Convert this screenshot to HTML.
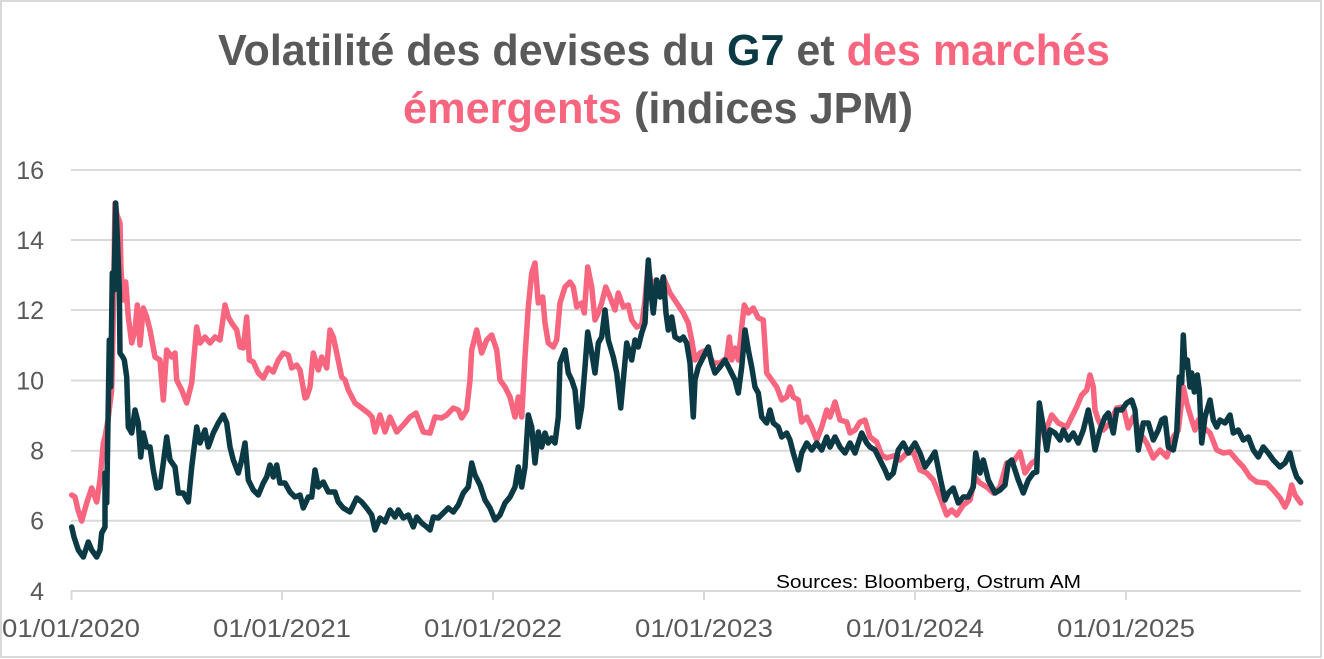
<!DOCTYPE html>
<html><head><meta charset="utf-8"><style>
html,body{margin:0;padding:0;background:#fff;}
svg{display:block;}
</style></head><body>
<svg width="1324" height="659" viewBox="0 0 1324 659" xmlns="http://www.w3.org/2000/svg">
<rect x="0" y="0" width="1324" height="659" fill="#fff"/>
<rect x="1" y="1" width="1320" height="656" fill="none" stroke="#d9d9d9" stroke-width="2"/>
<text x="664" y="65" font-family="Liberation Sans, sans-serif" font-weight="bold" font-size="44" text-anchor="middle" textLength="892" lengthAdjust="spacingAndGlyphs" fill="#595959">Volatilité des devises du <tspan fill="#0b3a45">G7</tspan> et <tspan fill="#f8657e">des marchés</tspan></text>
<text x="658" y="123" font-family="Liberation Sans, sans-serif" font-weight="bold" font-size="44" text-anchor="middle" textLength="510" lengthAdjust="spacingAndGlyphs" fill="#595959"><tspan fill="#f8657e">émergents</tspan> (indices JPM)</text>
<g stroke="#d9d9d9" stroke-width="2">
<line x1="71" y1="170" x2="1301" y2="170"/>
<line x1="71" y1="240" x2="1301" y2="240"/>
<line x1="71" y1="310" x2="1301" y2="310"/>
<line x1="71" y1="380.5" x2="1301" y2="380.5"/>
<line x1="71" y1="450.7" x2="1301" y2="450.7"/>
<line x1="71" y1="520.7" x2="1301" y2="520.7"/>
<line x1="71" y1="591" x2="1301" y2="591"/>
<line x1="71.5" y1="591" x2="71.5" y2="600"/>
<line x1="282" y1="591" x2="282" y2="600"/>
<line x1="493" y1="591" x2="493" y2="600"/>
<line x1="704" y1="591" x2="704" y2="600"/>
<line x1="915" y1="591" x2="915" y2="600"/>
<line x1="1126" y1="591" x2="1126" y2="600"/>
</g>
<g font-family="Liberation Sans, sans-serif" font-size="25" fill="#595959" text-anchor="end">
<text x="44" y="179">16</text>
<text x="44" y="249">14</text>
<text x="44" y="319">12</text>
<text x="44" y="389.5">10</text>
<text x="44" y="459.7">8</text>
<text x="44" y="529.7">6</text>
<text x="44" y="600">4</text>
</g>
<g font-family="Liberation Sans, sans-serif" font-size="25" fill="#595959" text-anchor="middle">
<text x="71" y="637" textLength="138" lengthAdjust="spacingAndGlyphs">01/01/2020</text>
<text x="282" y="637" textLength="138" lengthAdjust="spacingAndGlyphs">01/01/2021</text>
<text x="493" y="637" textLength="138" lengthAdjust="spacingAndGlyphs">01/01/2022</text>
<text x="704" y="637" textLength="138" lengthAdjust="spacingAndGlyphs">01/01/2023</text>
<text x="915" y="637" textLength="138" lengthAdjust="spacingAndGlyphs">01/01/2024</text>
<text x="1126" y="637" textLength="138" lengthAdjust="spacingAndGlyphs">01/01/2025</text>
</g>
<text x="776" y="588" font-family="Liberation Sans, sans-serif" font-size="18" fill="#000" textLength="305" lengthAdjust="spacingAndGlyphs">Sources: Bloomberg, Ostrum AM</text>
<polyline fill="none" stroke="#f8657e" stroke-width="5.5" stroke-linejoin="round" stroke-linecap="round" points="71.7,495 75,497 78,510 81.7,521 86.7,503 91.7,488 96.7,502 100,480 103.3,443 105,437 108,420 111.7,390 113,330 115,203 117,215 120,223 121,270 123.3,300 125.7,282 128.3,317 131.7,343 135,330 137.3,305 140,345 143.3,308 146.7,317 150,330 155,357 160,360 163.3,400 166.7,350 171.7,357 175,353 176.7,380 181.7,390 186.7,403 191.7,383 196.7,327 200,343 205,337 210,343 215,337 220,340 225,305 228.3,317 231.7,323 236.7,330 240,347 243.3,348 246.7,317 249.3,360 253.3,362 258.3,373 263.3,378 268.3,368 273.3,372 278.3,360 283.3,353 288.3,355 291.7,368 296.7,365 300,370 305,398 306.7,397 310,387 313.3,353 318.3,370 321.7,357 326.7,368 330,330 333.3,337 336.7,353 341.7,377 345,380 348.3,390 355,403 361.7,408 368.3,413 372,417 375,432 380,415 385,432 390,417 396.7,432 403.3,425 410,417 416,413 423.3,432 430,433 435,417 441.7,418 446.7,415 453.3,408 458.3,410 461.7,418 466.7,410 470,380 471.7,350 476.7,330 481.7,353 486.7,340 491.7,335 496.7,350 500,380 505,387 510,397 515,417 518.3,397 521.7,417 525,357 528.3,307 531.7,273 535,263 538.3,303 542.7,297 545,323 548.3,343 553.3,347 556.7,340 560,303 565,287 570,282 573.3,287 576.7,307 581.7,303 584.3,313 587.7,267 591.7,287 595,320 598.3,313 601.7,303 605.7,287 610,297 615,310 618.3,293 623.3,307 628.3,305 631.7,320 636.7,327 641.7,325 645,300 648,265 652,290 656,280 660,290 663.3,277 670,293 676.7,303 683.3,313 688.3,323 691.7,340 695,360 700,353 706.7,350 713.3,363 720,363 726.7,358 729.3,337 731.7,360 735,348 738.3,360 741.7,327 744.3,305 748.3,313 753.3,308 758.3,318 763.3,320 766.7,373 771.7,380 776.7,387 781.7,400 786.7,397 790,387 793.3,397 798.3,400 801.7,422 806.7,417 811.7,427 816.7,440 821.7,427 826.7,410 830,417 835,402 840,420 846.7,422 850,433 855,430 860,422 865,420 870,437 876.7,442 881.7,455 886.7,458 890,457 896.7,455 900,460 906.7,453 913.3,452 920,470 926.7,473 933.3,480 940,497 946.7,515 951.7,510 956.7,515 963.3,505 970,500 975,477 980,483 986.7,487 993.3,493 1000,487 1006.7,463 1013.3,462 1020,452 1025,473 1031.7,463 1036.7,460 1040,420 1045,433 1051.7,415 1058.3,423 1066.7,427 1071.7,417 1076.7,407 1081.7,395 1086.7,390 1090,375 1093.3,387 1095,410 1098.3,420 1103.3,430 1110,423 1116.7,408 1123.3,407 1128.3,428 1133.3,417 1140,433 1146.7,443 1153.3,458 1160,450 1166.7,457 1173.3,437 1178.3,430 1183.3,387 1186.7,403 1191.7,420 1195,430 1198.3,420 1203.3,427 1210,433 1216.7,450 1223.3,453 1230,452 1236.7,460 1243.3,467 1250,477 1256.7,482 1266.7,483 1273.3,490 1280,498 1285,507 1288.3,500 1291.7,485 1295,495 1300.7,503"/>
<polyline fill="none" stroke="#0b3a45" stroke-width="5.5" stroke-linejoin="round" stroke-linecap="round" points="71.7,527 74,537 78.3,550 83.3,557 88.3,542 91.7,550 96.7,557 100,550 101.7,533 105,527 105,473 106.7,503 109.3,340 110.7,387 112.3,273 114,290 115.7,203 117.3,237 119.3,290 120,353 122.7,357 124.3,360 126.7,377 128.3,427 131.7,433 135,410 138.3,423 140.7,457 143.3,433 146.7,447 150,447 153.3,470 156.7,488 160,487 163.3,463 166.7,437 170,460 175,467 178.3,493 183.3,493 188.3,502 191.7,467 196.7,427 200,443 205,430 208.3,447 213.3,433 218.3,423 223.3,415 226.7,423 230,447 233.3,460 238.3,473 241.7,460 245,443 248.3,480 253.3,490 258.3,495 263.3,483 266.7,477 270,465 273.3,477 276.7,465 280,483 285,483 290,492 295,497 300,495 303.3,508 308.3,497 311.7,497 315,470 318.3,487 323.3,482 328.3,492 335,492 338.3,502 343.3,508 350,512 356.7,498 361.7,502 366.7,508 371.7,515 375,530 380,518 385,522 390,510 395,517 398.3,510 403.3,518 408.3,515 413.3,527 416.7,517 421.7,523 426.7,527 430,530 433.3,517 438.3,518 443.3,513 448.3,508 453.3,512 458.3,505 463.3,493 468.3,487 471.7,463 475,475 480,485 485,500 490,508 495,520 500,515 505,503 510,497 515,487 518.3,467 521.7,487 525,467 528.3,415 531.7,427 535,463 538.3,432 541.7,447 545,433 548.3,443 551.7,438 555,443 558.3,417 560,363 565,350 568.3,373 571.7,380 575,390 578.3,427 581.7,407 585,367 587.7,332 591.7,353 595,373 598.3,343 601.7,337 605,310 608.3,340 613.3,357 616.7,373 620.7,408 623.3,380 626.7,343 631.7,360 635,340 638.3,347 641.7,333 645,323 648.3,260 651,293 653.3,313 656.7,280 660,297 663.3,277 666,313 668.3,330 671.7,317 675,337 680,340 683.3,337 686.7,343 690,363 693.3,417 695,380 698.3,367 703.3,357 708.3,347 711.7,363 715,373 720,367 725,360 730,370 735,380 738.3,393 741.7,367 745,330 748.3,350 751.7,367 755,387 758.3,393 761.7,417 766.7,423 770,410 773.3,423 778.3,427 781.7,437 786.7,433 790,440 793.3,453 798.3,470 801.7,453 806.7,443 811.7,450 816.7,443 821.7,450 826.7,437 830,447 835,437 840,447 845,453 850,443 855,453 858.3,443 861.7,433 866.7,443 870,447 875,450 880,460 885,470 888.3,478 893.3,473 898.3,450 903.3,443 908.3,453 915,443 920,453 925,467 930,460 935,452 940,477 945,500 948.3,493 953.3,488 958.3,503 963.3,497 968.3,497 973.3,487 975.7,453 980,473 983.3,460 988.3,480 995,493 1000,490 1005,485 1008.3,463 1011.7,460 1015,470 1018.3,480 1023.3,493 1028.3,480 1033.3,473 1036.7,472 1039.3,403 1043.3,427 1046.7,450 1050,430 1055,433 1060,440 1063.3,430 1068.3,440 1073.3,433 1078.3,443 1083.3,430 1088.3,410 1091.7,427 1095,450 1100,430 1105,417 1108.3,413 1113.3,433 1116.7,410 1121.7,410 1126.7,403 1131.7,400 1135,410 1138.3,450 1143.3,423 1148.3,423 1153.3,440 1158.3,430 1161.7,420 1165,418 1168.3,447 1173.3,450 1176.7,433 1179.3,377 1181.7,383 1183.3,335 1185,367 1187.3,360 1190,387 1191.7,373 1194.3,392 1197.3,375 1199.3,390 1201.7,443 1205,417 1210,400 1213.3,420 1216.7,427 1220,420 1225,423 1230,415 1233.3,433 1238.3,430 1243.3,440 1248.3,437 1253.3,450 1258.3,457 1263.3,447 1268.3,453 1273.3,460 1280,467 1285,463 1290,453 1293.3,467 1296.7,477 1300.7,482"/>
</svg>
</body></html>
